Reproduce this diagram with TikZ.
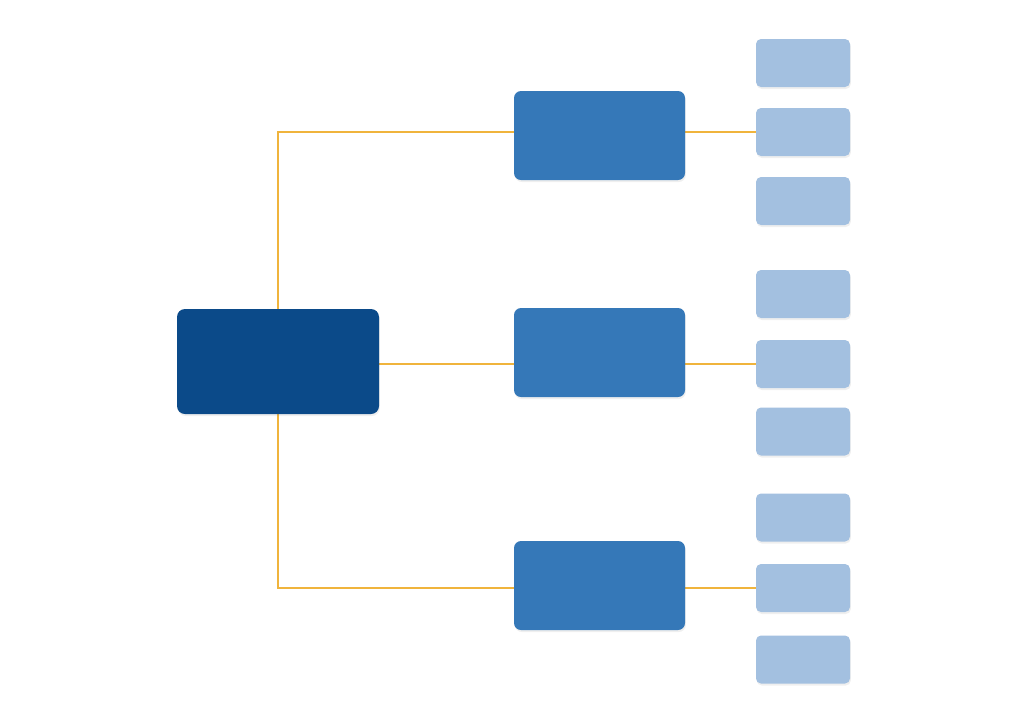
\documentclass[tikz,border=0pt]{standalone}
\usepackage{tikz}
\usetikzlibrary{backgrounds,shadows}
\definecolor{rootblue}{RGB}{11,74,137}
\definecolor{midblue}{RGB}{53,120,184}
\definecolor{leafblue}{RGB}{163,192,224}
\definecolor{linkgold}{RGB}{240,180,60}

\tikzset{
  box/.style={rectangle, inner sep=0pt,
    drop shadow={opacity=0.12, shadow xshift=0.4pt, shadow yshift=-1pt}},
  rootbox/.style={box, fill=rootblue, rounded corners=4pt, minimum width=101pt, minimum height=52.5pt},
  midbox/.style={box, fill=midblue, rounded corners=3.5pt, minimum width=85.5pt, minimum height=44.5pt},
  leafbox/.style={box, fill=leafblue, rounded corners=2.5pt, minimum width=47pt, minimum height=24pt},
  link/.style={draw=linkgold, line width=0.75pt}
}

\begin{document}
\begin{tikzpicture}[x=0.5pt, y=-0.5pt]
  \useasboundingbox (0,0) rectangle (1024,725);

  % draws the boxes
  \node[rootbox] (root) at (278,361.5) {};
  \foreach \y [count = \i] in {135.5,352.5,585.5}
    \node[midbox] (m\i) at (599.5,\y) {};
  \foreach \y [count = \i] in {63,132,201,294,364,431.5,517.5,588,659.5}
    \node[leafbox] (l\i) at (803,\y) {};

  % draws the links
  \begin{scope}[on background layer]
    \fill[white] (0,0) rectangle (1024,725);
    \draw[link] (root.north) |- (l2.west);
    \draw[link] (l5.west -| root.east) -- (l5.west);
    \draw[link] (root.south) |- (l8.west);
  \end{scope}
\end{tikzpicture}
\end{document}
